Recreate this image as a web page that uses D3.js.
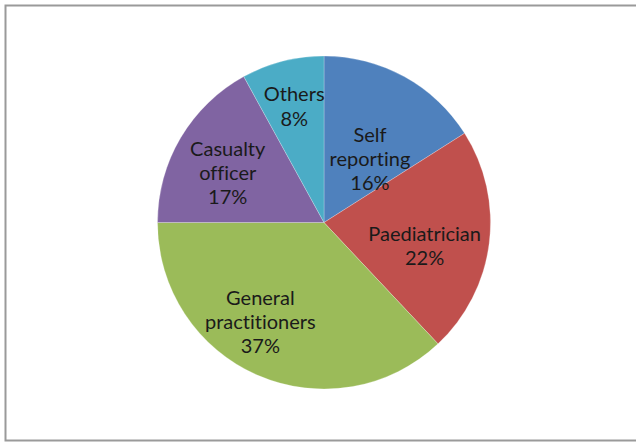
<!DOCTYPE html>
<html><head><meta charset="utf-8">
<script src="https://cdn.jsdelivr.net/npm/d3@7"></script>
<style>html,body{margin:0;padding:0;background:#fff;}svg{display:block;}text{font-variant-ligatures:none;font-feature-settings:"liga" 0;}</style>
</head><body>
<svg id="c" width="636" height="442"></svg>
<script>
const categories = ["Self reporting", "Paediatrician", "General practitioners", "Casualty officer", "Others"];
const labelLines = [["Self","reporting"],["Paediatrician"],["General","practitioners"],["Casualty","officer"],["Others"]];
const values = [16, 22, 37, 17, 8];
const colors = ["#4F81BD", "#C0504D", "#9BBB59", "#8064A2", "#4BACC6"];

const svg = d3.select("#c");
svg.append("rect").attr("x",5.5).attr("y",5.5).attr("width",640).attr("height",435)
  .attr("fill","#fff").attr("stroke","#9a9a9a").attr("stroke-width",2);

const cx = 324, cy = 222.5, r = 166.5;
const g = svg.append("g").attr("transform",`translate(${cx},${cy})`);
const pie = d3.pie().sort(null).value(d=>d)(values);
const arc = d3.arc().innerRadius(0).outerRadius(r);
g.selectAll("path").data(pie).join("path")
  .attr("d",arc).attr("fill",(d,i)=>colors[i])
  .attr("stroke","#fff").attr("stroke-width",0.4).attr("stroke-opacity",0.6);

const labelFactor = [0.471, 0.62, 0.71, 0.65, 0.72];
const angleShift = [0.124, 0.1, 0.16, -0.06, 0];
const lh = 24.2;
pie.forEach((d,i)=>{
  const a = (d.startAngle+d.endAngle)/2 + angleShift[i];
  const rr = r*labelFactor[i];
  const x = Math.sin(a)*rr, y = -Math.cos(a)*rr;
  const lines = labelLines[i].concat([values[i]+"%"]);
  const t = g.append("text").attr("text-anchor","middle")
    .attr("font-family","Lato, 'Open Sans', sans-serif").attr("font-size",20).attr("fill","#1a1a1a");
  const y0 = y - (lines.length-1)*lh/2 + 7;
  lines.forEach((s,k)=>t.append("tspan").attr("x",x).attr("y",y0+k*lh).text(s));
});
</script>
</body></html>
